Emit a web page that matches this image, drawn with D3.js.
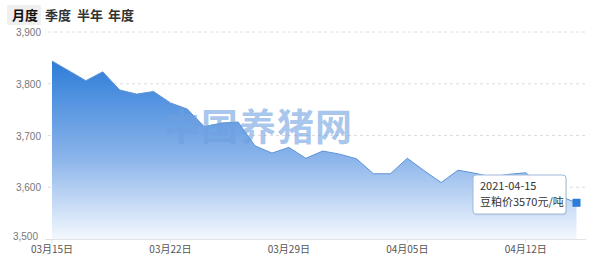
<!DOCTYPE html>
<html><head><meta charset="utf-8">
<script src="https://cdn.jsdelivr.net/npm/d3@7"></script>
<style>
html,body{margin:0;padding:0;background:#fff;overflow:hidden;}
svg{display:block;font-family:"Noto Sans CJK SC","Microsoft YaHei",sans-serif;}
</style></head>
<body>
<svg id="c" width="600" height="273"></svg>
<script>
const tabs = ["月度","季度","半年","年度"];
const dates = ["2021-03-15","2021-03-16","2021-03-17","2021-03-18","2021-03-19","2021-03-20","2021-03-21","2021-03-22","2021-03-23","2021-03-24","2021-03-25","2021-03-26","2021-03-27","2021-03-28","2021-03-29","2021-03-30","2021-03-31","2021-04-01","2021-04-02","2021-04-03","2021-04-04","2021-04-05","2021-04-06","2021-04-07","2021-04-08","2021-04-09","2021-04-10","2021-04-11","2021-04-12","2021-04-13","2021-04-14","2021-04-15"];
const prices = [3844,3825,3806,3823,3788,3780,3785,3763,3751,3717,3724,3726,3680,3666,3677,3656,3670,3664,3655,3626,3626,3656,3632,3609,3633,3627,3620,3625,3628,3600,3583,3570];
const yTicks = [3500,3600,3700,3800,3900];
const xTickDates = ["2021-03-15","2021-03-22","2021-03-29","2021-04-05","2021-04-12"];
const tooltipLines = ["2021-04-15","豆粕价3570元/吨"];
const watermark = "中国养猪网";

const svg = d3.select("#c");
const parse = d3.timeParse("%Y-%m-%d");
const data = dates.map((d,i)=>({date:parse(d), v:prices[i]}));

const x = d3.scaleTime().domain([parse(dates[0]), parse(dates[dates.length-1])]).range([52,576.5]);
const y = d3.scaleLinear().domain([3500,3900]).range([239,32]);

// tabs
const tabX = [12,45,77,108];
svg.append("rect").attr("x",7).attr("y",5).attr("width",34).attr("height",20).attr("fill","#efefef").attr("rx",1);
svg.selectAll("text.tab").data(tabs).enter().append("text")
  .attr("class","tab").attr("x",(d,i)=>tabX[i]).attr("y",20)
  .attr("font-size",13).attr("font-weight","bold").attr("fill",(d,i)=>i===0?"#111":"#333").text(d=>d);

// grid
svg.append("g").selectAll("line").data(yTicks.slice(1)).enter().append("line")
  .attr("x1",48).attr("x2",586).attr("y1",d=>y(d)).attr("y2",d=>y(d))
  .attr("stroke","#dcdcdc").attr("stroke-dasharray","3,3").attr("stroke-width",1);

// y labels
svg.append("g").selectAll("text").data(yTicks).enter().append("text")
  .attr("x",d=>d===3500?38:41).attr("y",d=>y(d)+(d===3500?1:4)).attr("text-anchor","end")
  .attr("font-size",10).attr("fill","#777").attr("font-family","Arial, 'Liberation Sans', sans-serif")
  .text(d=>d3.format(",")(d));

// gradient
const defs = svg.append("defs");
const g = defs.append("linearGradient").attr("id","ag")
  .attr("gradientUnits","userSpaceOnUse").attr("x1",0).attr("x2",0).attr("y1",y(3850)).attr("y2",y(3500));
g.append("stop").attr("offset","0").attr("stop-color","#2b7bd8");
g.append("stop").attr("offset","0.55").attr("stop-color","#8ab4ea");
g.append("stop").attr("offset","1").attr("stop-color","#f3f8fe");

const area = d3.area().x(d=>x(d.date)).y0(y(3500)).y1(d=>y(d.v));
svg.append("path").datum(data).attr("d",area).attr("fill","url(#ag)");
const line = d3.line().x(d=>x(d.date)).y(d=>y(d.v));
svg.append("path").datum(data).attr("d",line).attr("fill","none").attr("stroke","#5d93d6").attr("stroke-width",1);

// watermark
svg.append("text").attr("x",258).attr("y",141).attr("text-anchor","middle")
  .attr("font-size",37).attr("font-weight","bold").attr("fill","#6f9fe0").attr("fill-opacity",0.6)
  .attr("letter-spacing",1).text(watermark);

// x axis
svg.append("line").attr("x1",45).attr("x2",586).attr("y1",239.5).attr("y2",239.5).attr("stroke","#e2e2e2");
const xt = svg.append("g");
xt.selectAll("line").data(xTickDates).enter().append("line")
  .attr("x1",d=>x(parse(d))).attr("x2",d=>x(parse(d))).attr("y1",239.5).attr("y2",243).attr("stroke","#e2e2e2");
xt.selectAll("text").data(xTickDates).enter().append("text")
  .attr("x",d=>x(parse(d))).attr("y",253).attr("text-anchor","middle")
  .attr("font-size",10).attr("fill","#555")
  .text(d=>d3.timeFormat("%m月%d日")(parse(d)));

// marker
const last = data[data.length-1];
svg.append("rect").attr("x",x(last.date)-4).attr("y",y(last.v)-4).attr("width",8).attr("height",8).attr("fill","#2b7bd8");

// tooltip
const tt = svg.append("g").attr("transform","translate(473,175)");
tt.append("rect").attr("x",1).attr("y",1.5).attr("width",93).attr("height",39).attr("rx",3).attr("fill","#000").attr("opacity",0.06);
tt.append("rect").attr("x",0).attr("y",0).attr("width",93).attr("height",39).attr("rx",3)
  .attr("fill","#fff").attr("stroke","#9fb9dc").attr("stroke-width",1);
tt.selectAll("text").data(tooltipLines).enter().append("text")
  .attr("x",7).attr("y",(d,i)=>15+i*16).attr("font-size",11).attr("fill","#333").text(d=>d);
</script>
</body></html>
